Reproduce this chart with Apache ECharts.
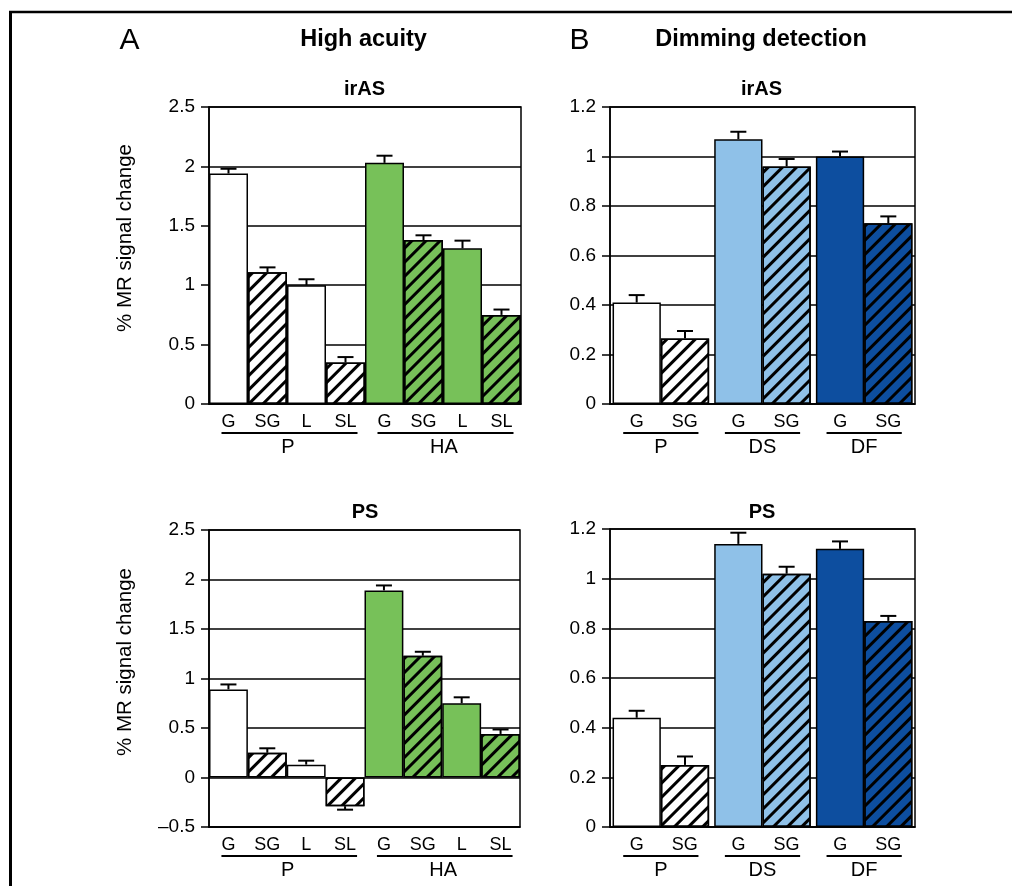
<!DOCTYPE html>
<html>
<head>
<meta charset="utf-8">
<script src="https://cdn.jsdelivr.net/npm/echarts@6/dist/echarts.min.js"></script>
<style>
  html, body { margin: 0; padding: 0; background: #fff; }
  #main { width: 1012px; height: 886px; }
</style>
</head>
<body>
<div id="main"></div>
<script>
// High acuity panel (A)
const hiGroups = ['P', 'HA'];
const hiConds = ['G', 'SG', 'L', 'SL'];
const hiIrasMean = [1.94, 1.11, 1.00, 0.35, 2.03, 1.38, 1.31, 0.75];
const hiIrasErr = [0.04, 0.04, 0.05, 0.045, 0.06, 0.04, 0.065, 0.045];
const hiPsMean = [0.89, 0.25, 0.13, -0.29, 1.89, 1.23, 0.75, 0.44];
const hiPsErr = [0.05, 0.045, 0.04, 0.035, 0.05, 0.04, 0.06, 0.045];

// Dimming detection panel (B)
const dimGroups = ['P', 'DS', 'DF'];
const dimConds = ['G', 'SG'];
const dimIrasG = [0.41, 1.07, 1.00];
const dimIrasGErr = [0.03, 0.03, 0.02];
const dimIrasSG = [0.265, 0.96, 0.73];
const dimIrasSGErr = [0.03, 0.03, 0.028];
const dimPsG = [0.44, 1.14, 1.12];
const dimPsGErr = [0.028, 0.045, 0.03];
const dimPsSG = [0.25, 1.02, 0.83];
const dimPsSGErr = [0.034, 0.028, 0.02];

const hiYTicks = { min: 0, max: 2.5, interval: 0.5 };
const hiPsYTicks = { min: -0.5, max: 2.5, interval: 0.5 };
const dimYTicks = { min: 0, max: 1.2, interval: 0.2 };

const hiFill = ['#ffffff', '#77c159'];
const dimFill = ['#ffffff', '#8fc1e8', '#0d4e9f'];
const FONT = '"Liberation Sans", Arial, sans-serif';

const hatch = {
    symbol: 'rect',
    symbolSize: 1,
    dashArrayX: [1, 0],
    dashArrayY: [2.2, 6.8],
    rotation: -Math.PI / 4,
    color: '#000'
};

function barStyle(color, hatched) {
    const s = { color: color, borderColor: '#000', borderWidth: 1.5 };
    if (hatched) s.decal = hatch;
    return s;
}

const hiCats = hiGroups.flatMap(g => hiConds.map(c => g + '-' + c));

// grid boxes: A irAS, B irAS, A PS, B PS
const boxes = [
    { left: 209, top: 107, width: 312, height: 297 },
    { left: 610, top: 107, width: 305, height: 297 },
    { left: 209, top: 530, width: 311, height: 297 },
    { left: 610, top: 529, width: 305, height: 298 }
];

function yAxisFor(i, ticks) {
    return {
        type: 'value', gridIndex: i,
        min: ticks.min, max: ticks.max, interval: ticks.interval,
        axisLine: { show: true, lineStyle: { color: '#000', width: 1.5 } },
        axisTick: { show: true, length: 8, lineStyle: { color: '#000', width: 1.5 } },
        splitLine: { show: true, lineStyle: { color: '#000', width: 1.5 } },
        axisLabel: {
            color: '#000', fontSize: 19, fontFamily: FONT, margin: 14,
            formatter: v => (v < 0 ? '\u2013' + Math.abs(v) : String(+v.toFixed(2)))
        }
    };
}

function hiXAxis(i) {
    return {
        type: 'category', gridIndex: i, data: hiCats,
        axisLine: { onZero: false, lineStyle: { color: '#000', width: 1.5 } },
        axisTick: { show: false },
        axisLabel: {
            interval: 0, color: '#000', fontSize: 18, fontFamily: FONT, margin: 9,
            formatter: v => v.split('-')[1]
        }
    };
}

function dimXAxis(i) {
    return {
        type: 'category', gridIndex: i, data: dimGroups,
        axisLine: { onZero: false, lineStyle: { color: '#000', width: 1.5 } },
        axisTick: { show: false },
        axisLabel: {
            interval: 0, color: '#000', fontFamily: FONT, margin: 9,
            formatter: () => '{a|' + dimConds[0] + '}{b|' + dimConds[1] + '}',
            rich: {
                a: { width: 48, align: 'center', fontSize: 18, color: '#000', fontFamily: FONT },
                b: { width: 48, align: 'center', fontSize: 18, color: '#000', fontFamily: FONT }
            }
        }
    };
}

function errRender(params, api) {
    const x = api.value(0), v = api.value(1), e = api.value(2);
    const side = api.value(3) || 0;
    const end = v >= 0 ? v + e : v - e;
    const p0 = api.coord([x, v]);
    const p1 = api.coord([x, end]);
    const band = api.size([1, 0])[0];
    const cx = p0[0] + side * band * 0.95 / 4;
    const st = { stroke: '#000', lineWidth: 2 };
    return {
        type: 'group',
        children: [
            { type: 'line', shape: { x1: cx, y1: p0[1], x2: cx, y2: p1[1] }, style: st },
            { type: 'line', shape: { x1: cx - 8, y1: p1[1], x2: cx + 8, y2: p1[1] }, style: st }
        ]
    };
}

function hiSeries(i, mean, err) {
    return [
        {
            type: 'bar', xAxisIndex: i, yAxisIndex: i, barCategoryGap: '0%',
            data: mean.map((v, k) => ({
                value: v,
                itemStyle: barStyle(hiFill[Math.floor(k / hiConds.length)], hiConds[k % hiConds.length].startsWith('S'))
            }))
        },
        {
            type: 'custom', xAxisIndex: i, yAxisIndex: i, z: 5,
            renderItem: errRender,
            data: mean.map((v, k) => [k, v, err[k], 0])
        }
    ];
}

function dimSeries(i, g, gErr, sg, sgErr) {
    return [
        {
            type: 'bar', xAxisIndex: i, yAxisIndex: i, barGap: '0%', barCategoryGap: '5%',
            data: g.map((v, k) => ({ value: v, itemStyle: barStyle(dimFill[k], false) }))
        },
        {
            type: 'bar', xAxisIndex: i, yAxisIndex: i, barGap: '0%', barCategoryGap: '5%',
            data: sg.map((v, k) => ({ value: v, itemStyle: barStyle(dimFill[k], true) }))
        },
        {
            type: 'custom', xAxisIndex: i, yAxisIndex: i, z: 5,
            renderItem: errRender,
            data: g.map((v, k) => [k, v, gErr[k], -1]).concat(sg.map((v, k) => [k, v, sgErr[k], 1]))
        }
    ];
}

const chart = echarts.init(document.getElementById('main'), null, { renderer: 'canvas' });

chart.setOption({
    animation: false,
    backgroundColor: '#fff',
    textStyle: { fontFamily: FONT },
    grid: boxes.map(b => Object.assign({ show: true, borderColor: '#000', borderWidth: 1.5, containLabel: false }, b)),
    xAxis: [hiXAxis(0), dimXAxis(1), hiXAxis(2), dimXAxis(3)],
    yAxis: [yAxisFor(0, hiYTicks), yAxisFor(1, dimYTicks), yAxisFor(2, hiPsYTicks), yAxisFor(3, dimYTicks)],
    series: [].concat(
        hiSeries(0, hiIrasMean, hiIrasErr),
        dimSeries(1, dimIrasG, dimIrasGErr, dimIrasSG, dimIrasSGErr),
        hiSeries(2, hiPsMean, hiPsErr),
        dimSeries(3, dimPsG, dimPsGErr, dimPsSG, dimPsSGErr)
    )
});

// texts, group underlines and group names
function txt(text, x, y, size, bold, rot) {
    return {
        type: 'text', x: x, y: y, rotation: rot || 0, silent: true,
        style: {
            text: text, fill: '#000', fontSize: size, fontWeight: bold ? 'bold' : 'normal',
            fontFamily: FONT, align: 'center', verticalAlign: 'middle'
        }
    };
}
function hline(x1, x2, y, w) {
    return { type: 'line', silent: true, shape: { x1: x1, y1: y, x2: x2, y2: y }, style: { stroke: '#000', lineWidth: w || 2 } };
}

const gfx = [
    hline(9, 1012, 12, 2.5),
    { type: 'line', silent: true, shape: { x1: 10.5, y1: 12, x2: 10.5, y2: 886 }, style: { stroke: '#000', lineWidth: 3 } },
    txt('A', 129.5, 41, 30, false),
    txt('B', 579.5, 41, 30, false),
    txt('High acuity', 363.5, 40, 23.5, true),
    txt('Dimming detection', 761, 40, 23.5, true),
    txt('irAS', 364.5, 89, 20, true),
    txt('irAS', 761.5, 89, 20, true),
    txt('PS', 365, 512.5, 20, true),
    txt('PS', 762, 512.5, 20, true),
    txt('% MR signal change', 125.5, 238, 20.5, false, Math.PI / 2),
    txt('% MR signal change', 125, 662, 20.5, false, Math.PI / 2)
];

[0, 2].forEach(i => {
    const yb = boxes[i].top + boxes[i].height;
    hiGroups.forEach(g => {
        const first = chart.convertToPixel({ xAxisIndex: i }, g + '-' + hiConds[0]);
        const last = chart.convertToPixel({ xAxisIndex: i }, g + '-' + hiConds[hiConds.length - 1]);
        gfx.push(hline(first - 7, last + 12, yb + 29));
        gfx.push(txt(g, (first + last) / 2 + 1, yb + 43, 20, false));
    });
});

[1, 3].forEach(i => {
    const yb = boxes[i].top + boxes[i].height;
    const band = chart.convertToPixel({ xAxisIndex: i }, dimGroups[1]) - chart.convertToPixel({ xAxisIndex: i }, dimGroups[0]);
    dimGroups.forEach(g => {
        const c = chart.convertToPixel({ xAxisIndex: i }, g);
        gfx.push(hline(c - band * 0.37, c + band * 0.37, yb + 29));
        gfx.push(txt(g, c, yb + 43, 20, false));
    });
});

chart.setOption({ graphic: gfx });
</script>
</body>
</html>
